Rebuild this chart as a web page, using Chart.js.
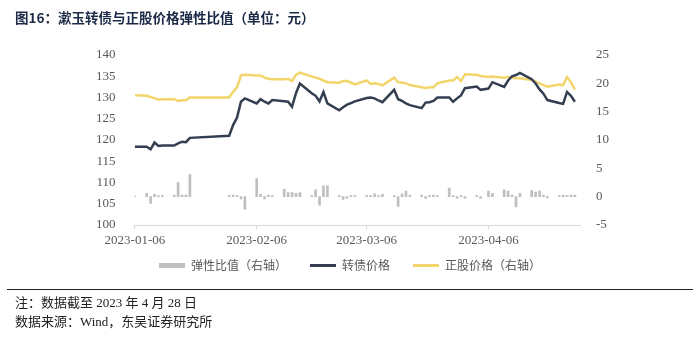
<!DOCTYPE html>
<html>
<head>
<meta charset="utf-8">
<script src="https://cdn.jsdelivr.net/npm/chart.js@4.4.0/dist/chart.umd.min.js"></script>
<style>
  body { margin: 0; background: #fff; }
  #wrap { position: relative; width: 700px; height: 338px; overflow: hidden; }
  #chartBox { position: absolute; left: 0; top: 0; width: 700px; height: 338px; }
  #title { position: absolute; left: 15px; top: 7px; line-height: 20px; font: bold 13.5px "Noto Sans CJK SC", sans-serif; color: #1b2a47; white-space: nowrap; }
  #rule { position: absolute; left: 7px; right: 7px; top: 289px; border-top: 1.5px solid #222; }
  .note { position: absolute; left: 15px; line-height: 18px; font-size: 13px; font-family: "Liberation Serif", "Noto Sans CJK SC", serif; color: #222; white-space: nowrap; }
</style>
</head>
<body>
<div id="wrap">
  <div id="chartBox"><canvas id="elasticChart"></canvas></div>
  <div id="title">图16：漱玉转债与正股价格弹性比值（单位：元）</div>
  <div id="rule"></div>
  <div class="note" style="top:294px">注：数据截至 2023 年 4 月 28 日</div>
  <div class="note" style="top:313px">数据来源：Wind，东吴证券研究所</div>
</div>
<script>
// Trading days, 2023-01-06 to 2023-04-28
const dates = [
    '2023-01-06', '2023-01-09', '2023-01-10', '2023-01-11', '2023-01-12', '2023-01-13',
    '2023-01-16', '2023-01-17', '2023-01-18', '2023-01-19', '2023-01-20',
    '2023-01-30', '2023-01-31', '2023-02-01', '2023-02-02', '2023-02-03',
    '2023-02-06', '2023-02-07', '2023-02-08', '2023-02-09', '2023-02-10',
    '2023-02-13', '2023-02-14', '2023-02-15', '2023-02-16', '2023-02-17',
    '2023-02-20', '2023-02-21', '2023-02-22', '2023-02-23', '2023-02-24',
    '2023-02-27', '2023-02-28', '2023-03-01', '2023-03-02', '2023-03-03',
    '2023-03-06', '2023-03-07', '2023-03-08', '2023-03-09', '2023-03-10',
    '2023-03-13', '2023-03-14', '2023-03-15', '2023-03-16', '2023-03-17',
    '2023-03-20', '2023-03-21', '2023-03-22', '2023-03-23', '2023-03-24',
    '2023-03-27', '2023-03-28', '2023-03-29', '2023-03-30', '2023-03-31',
    '2023-04-03', '2023-04-04', '2023-04-06', '2023-04-07',
    '2023-04-10', '2023-04-11', '2023-04-12', '2023-04-13', '2023-04-14',
    '2023-04-17', '2023-04-18', '2023-04-19', '2023-04-20', '2023-04-21',
    '2023-04-24', '2023-04-25', '2023-04-26', '2023-04-27', '2023-04-28'
];

// 转债价格 (left axis)
const bondPrice = [
    118.4, 118.4, 117.8, 119.4, 118.6, 118.7,
    118.7, 119.2, 119.6, 119.5, 120.5,
    121.0, 123.5, 125.3, 129.0, 129.8,
    128.6, 129.6, 129.0, 128.6, 129.4,
    129.1, 129.0, 127.8, 131.0, 133.3,
    131.0, 130.4, 129.1, 131.3, 128.6,
    127.0, 127.7, 128.3, 128.7, 129.1,
    129.9, 130.0, 129.8, 129.3, 128.9,
    131.8, 129.6, 129.2, 128.6, 128.2,
    127.5, 128.8, 128.9, 129.2, 130.0,
    130.0, 129.0, 129.8, 130.5, 132.2,
    132.6, 131.8, 132.1, 133.6,
    132.5, 134.0, 135.0, 135.3, 135.8,
    134.3, 133.3, 131.9, 130.9, 129.4,
    128.7, 128.5, 131.3, 130.4, 129.0
];

// 正股价格 (right axis)
const stockPrice = [
    17.9, 17.8, 17.6, 17.4, 17.1, 17.2,
    17.2, 16.9, 17.0, 17.0, 17.5,
    17.5, 18.5, 19.3, 21.4, 21.5,
    21.4, 21.4, 21.0, 20.8, 20.7,
    20.7, 20.8, 20.4, 21.5, 21.9,
    21.2, 21.0, 20.8, 20.5, 20.2,
    20.1, 20.4, 20.4, 20.1, 19.8,
    20.5, 19.9, 20.0, 19.9, 19.65,
    21.0, 20.2, 20.1, 20.0, 19.7,
    19.3, 19.2, 19.3, 19.3, 20.0,
    20.5, 20.5, 21.1, 20.4, 21.6,
    21.5, 21.3, 21.1, 21.2,
    21.0, 21.1, 21.0, 20.9, 20.9,
    20.6, 20.3, 20.0, 19.7, 19.4,
    19.8, 19.7, 21.1, 20.2, 18.9
];

// 弹性比值 (right axis)
const elasticity = [
    0.1, 0.6, -1.2, 0.4, 0.2, 0.2,
    0.3, 2.5, 0.3, 0.3, 3.9,
    0.2, 0.3, 0.2, -0.4, -2.2,
    3.2, 0.4, -0.4, 0.3, 0.2,
    1.3, 0.7, 0.7, 0.6, 0.7,
    0.2, 1.2, -1.5, 1.9, 1.9,
    0.2, -0.5, -0.3, 0.2, 0.2,
    0.2, 0.2, 0.5, 0.2, 0.4,
    0.2, -1.7, 0.5, 1.0, 0.3,
    0.3, -0.3, 0.2, 0.3, 0.2,
    1.5, 0.2, -0.3, 0.2, -0.3,
    0.2, -0.3, 1.0, 0.6,
    1.2, 1.0, 0.3, -1.8, 0.6,
    1.1, 0.8, 1.0, 0.3, -0.2,
    0.2, 0.3, 0.2, 0.3, 0.3
];

const tickLabels = ['2023-01-06', '2023-02-06', '2023-03-06', '2023-04-06'];

// calendar days since the first date, used as the x value
function dayOf(s) {
    return (Date.parse(s) - Date.parse(dates[0])) / 86400000;
}
const tickDays = tickLabels.map(dayOf);

function toPoints(values) {
    return dates.map((d, i) => ({ x: dayOf(d), y: values[i] }));
}

const axisFont = { family: '"Liberation Serif", "Times New Roman", serif', size: 13 };

// legend sits a little closer to the axis labels than the layout would put it
const legendLift = {
    id: 'legendLift',
    afterLayout: function(chart) {
        chart.legend.top -= 13;
        chart.legend.bottom -= 13;
    }
};

const ctx = document.getElementById('elasticChart').getContext('2d');
const elasticChart = new Chart(ctx, {
    type: 'bar',
    data: {
        datasets: [{
            type: 'bar',
            label: '弹性比值（右轴）',
            data: toPoints(elasticity),
            yAxisID: 'yRight',
            backgroundColor: '#bfbfbf',
            borderWidth: 0,
            barThickness: 2
        }, {
            type: 'line',
            label: '转债价格',
            data: toPoints(bondPrice),
            yAxisID: 'yLeft',
            borderColor: '#333f50',
            backgroundColor: '#333f50',
            borderWidth: 2.5,
            pointRadius: 0,
            tension: 0
        }, {
            type: 'line',
            label: '正股价格（右轴）',
            data: toPoints(stockPrice),
            yAxisID: 'yRight',
            borderColor: '#f2d56b',
            backgroundColor: '#f2d56b',
            borderWidth: 2.5,
            pointRadius: 0,
            tension: 0
        }]
    },
    plugins: [legendLift],
    options: {
        responsive: true,
        maintainAspectRatio: false,
        animation: false,
        events: [],
        layout: { padding: { top: 55, left: 0, right: 0, bottom: 43.5 } },
        plugins: {
            tooltip: { enabled: false },
            legend: {
                position: 'bottom',
                labels: {
                    usePointStyle: true,
                    pointStyleWidth: 26,
                    boxWidth: 26,
                    boxHeight: 5,
                    padding: 23,
                    color: '#595959',
                    font: { family: '"Noto Sans CJK SC", sans-serif', size: 12 },
                    generateLabels: function(chart) {
                        const items = Chart.defaults.plugins.legend.labels.generateLabels(chart);
                        items.forEach(function(item, i) {
                            const ds = chart.data.datasets[item.datasetIndex];
                            item.pointStyle = i === 0 ? 'rect' : 'line';
                            item.fillStyle = i === 0 ? ds.backgroundColor : ds.borderColor;
                            item.strokeStyle = ds.borderColor || ds.backgroundColor;
                            item.lineWidth = i === 0 ? 0 : 3;
                        });
                        return items;
                    }
                }
            }
        },
        scales: {
            x: {
                type: 'linear',
                min: -0.1,
                max: 113.3,
                offset: false,
                afterBuildTicks: function(scale) {
                    scale.ticks = tickDays.map(v => ({ value: v }));
                },
                afterFit: function(scale) { scale.height = 24.5; },
                ticks: {
                    autoSkip: false,
                    maxRotation: 0,
                    padding: 4,
                    color: '#595959',
                    font: axisFont,
                    callback: function(value) {
                        const i = tickDays.indexOf(value);
                        return i >= 0 ? tickLabels[i] : '';
                    }
                },
                grid: { offset: false, drawOnChartArea: false, drawTicks: true, tickLength: 4, color: '#d9d9d9' },
                border: { display: true, color: '#d9d9d9' }
            },
            yLeft: {
                position: 'left',
                min: 100,
                max: 140,
                afterFit: function(scale) { scale.width = 134.5; },
                ticks: { stepSize: 5, padding: 11, color: '#595959', font: axisFont },
                grid: { display: false },
                border: { display: false }
            },
            yRight: {
                position: 'right',
                min: -5,
                max: 25,
                afterFit: function(scale) { scale.width = 120; },
                ticks: { stepSize: 5, padding: 8, color: '#595959', font: axisFont },
                grid: { display: false },
                border: { display: false }
            }
        }
    }
});
</script>
</body>
</html>
